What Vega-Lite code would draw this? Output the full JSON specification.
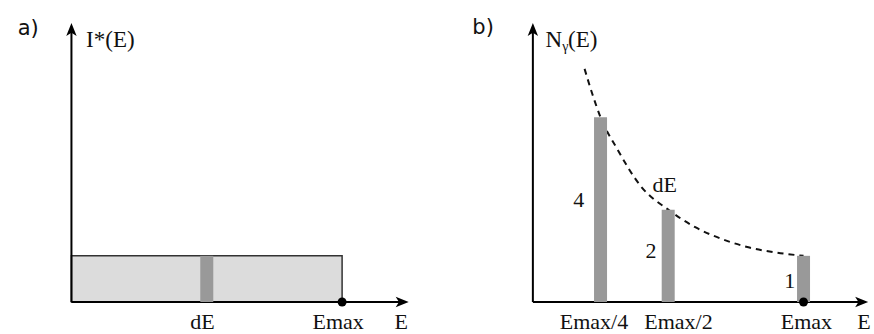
{
  "$schema": "https://vega.github.io/schema/vega-lite/v6.json",
  "padding": 0,
  "background": "white",
  "spacing": 0,
  "config": {"view": {"stroke": null}, "concat": {"spacing": 0}},
  "datasets": {
    "a_box": [{"E": 0, "E2": 1, "N": 0, "N2": 1}],
    "a_axes": [{"E": 0, "E2": 0, "N": 0, "N2": 5.9}, {"E": 0, "E2": 1.222, "N": 0, "N2": 0}],
    "a_slice": [{"E": 0.5, "N": 1}],
    "a_xarrow": [{"E": 1.222, "N": 0}],
    "a_yarrow": [{"E": 0, "N": 5.9025}],
    "a_dot": [{"E": 1, "N": 0}],
    "a_panel": [{"E": -0.1986, "N": 5.783, "label": "a)"}],
    "a_left": [{"E": 0.0542, "N": 5.523, "label": "I*(E)"}],
    "a_ticks": [
      {"E": 0.4838, "N": -0.59, "label": "dE"},
      {"E": 0.9856, "N": -0.59, "label": "Emax"},
      {"E": 1.2184, "N": -0.59, "label": "E"}
    ],
    "b_axes": [{"E": 0, "E2": 0, "N": 0, "N2": 5.9}, {"E": 0, "E2": 1.2148, "N": 0, "N2": 0}],
    "b_bars": [{"E": 0.25, "N": 4}, {"E": 0.5, "N": 2}, {"E": 1, "N": 1}],
    "b_curve": [
      {"E": 0.191, "N": 5.05},
      {"E": 0.22, "N": 4.5},
      {"E": 0.25, "N": 4.0},
      {"E": 0.31, "N": 3.33},
      {"E": 0.4, "N": 2.5},
      {"E": 0.5, "N": 2.0},
      {"E": 0.6, "N": 1.62},
      {"E": 0.7, "N": 1.36},
      {"E": 0.8, "N": 1.18},
      {"E": 0.9, "N": 1.07},
      {"E": 1.0, "N": 1.0}
    ],
    "b_xarrow": [{"E": 1.2148, "N": 0}],
    "b_yarrow": [{"E": 0, "N": 5.9025}],
    "b_dot": [{"E": 1, "N": 0}],
    "b_panel": [{"E": -0.2238, "N": 5.805, "label": "b)"}],
    "b_left": [
      {"E": 0.0469, "N": 5.523, "label": "N"},
      {"E": 0.13, "N": 5.523, "label": "(E)"}
    ],
    "b_edge": [{"E": 1.1986, "N": -0.5848, "label": "E"}],
    "b_sub": [{"E": 0.1083, "N": 5.437, "label": "γ"}],
    "b_center": [
      {"E": 0.1697, "N": 2.0578, "label": "4"},
      {"E": 0.4368, "N": 0.9531, "label": "2"},
      {"E": 0.9495, "N": 0.3032, "label": "1"},
      {"E": 0.4874, "N": 2.3827, "label": "dE"},
      {"E": 0.2256, "N": -0.5848, "label": "Emax/4"},
      {"E": 0.5379, "N": -0.5848, "label": "Emax/2"},
      {"E": 1.0108, "N": -0.5848, "label": "Emax"}
    ]
  },
  "hconcat": [
    {
      "width": 437,
      "height": 334,
      "encoding": {
        "x": {"field": "E", "type": "quantitative", "axis": null, "scale": {"domain": [-0.24549, 1.33213], "nice": false, "zero": false}},
        "y": {"field": "N", "type": "quantitative", "axis": null, "scale": {"domain": [-0.69314, 6.54152], "nice": false, "zero": false}}
      },
      "layer": [
        {
          "data": {"name": "a_box"},
          "mark": {"type": "rect", "fill": "#dcdcdc", "stroke": "#333333", "strokeWidth": 1.5},
          "encoding": {"x2": {"field": "E2"}, "y2": {"field": "N2"}}
        },
        {
          "data": {"name": "a_axes"},
          "mark": {"type": "rule", "color": "#000000", "strokeWidth": 2},
          "encoding": {"x2": {"field": "E2"}, "y2": {"field": "N2"}}
        },
        {
          "data": {"name": "a_slice"},
          "mark": {"type": "bar", "width": 13, "fill": "#999999", "stroke": null},
          "encoding": {"y2": {"datum": 0}}
        },
        {
          "data": {"name": "a_xarrow"},
          "mark": {"type": "point", "shape": "M 1 0 L -1 -0.8 L -0.5 0 L -1 0.8 Z", "size": 169, "filled": true, "color": "#000000", "opacity": 1, "angle": 0}
        },
        {
          "data": {"name": "a_yarrow"},
          "mark": {"type": "point", "shape": "M 1 0 L -1 -0.8 L -0.5 0 L -1 0.8 Z", "size": 169, "filled": true, "color": "#000000", "opacity": 1, "angle": -90}
        },
        {
          "data": {"name": "a_dot"},
          "mark": {"type": "circle", "size": 80, "color": "#000000", "opacity": 1}
        },
        {
          "data": {"name": "a_panel"},
          "mark": {"type": "text", "font": "DejaVu Sans", "fontSize": 21, "align": "left", "baseline": "alphabetic", "color": "#111111"},
          "encoding": {"text": {"field": "label"}}
        },
        {
          "data": {"name": "a_left"},
          "mark": {"type": "text", "font": "Liberation Serif", "fontSize": 23, "align": "left", "baseline": "alphabetic", "color": "#111111"},
          "encoding": {"text": {"field": "label"}}
        },
        {
          "data": {"name": "a_ticks"},
          "mark": {"type": "text", "font": "Liberation Serif", "fontSize": 22, "align": "center", "baseline": "alphabetic", "color": "#111111"},
          "encoding": {"text": {"field": "label"}}
        }
      ]
    },
    {
      "width": 437,
      "height": 334,
      "encoding": {
        "x": {"field": "E", "type": "quantitative", "axis": null, "scale": {"domain": [-0.33574, 1.24188], "nice": false, "zero": false}},
        "y": {"field": "N", "type": "quantitative", "axis": null, "scale": {"domain": [-0.69314, 6.54152], "nice": false, "zero": false}}
      },
      "layer": [
        {
          "data": {"name": "b_axes"},
          "mark": {"type": "rule", "color": "#000000", "strokeWidth": 2},
          "encoding": {"x2": {"field": "E2"}, "y2": {"field": "N2"}}
        },
        {
          "data": {"name": "b_curve"},
          "mark": {"type": "line", "interpolate": "monotone", "color": "#111111", "strokeWidth": 2, "strokeDash": [6, 5]}
        },
        {
          "data": {"name": "b_bars"},
          "mark": {"type": "bar", "width": 13, "fill": "#999999", "stroke": null},
          "encoding": {"y2": {"datum": 0}}
        },
        {
          "data": {"name": "b_xarrow"},
          "mark": {"type": "point", "shape": "M 1 0 L -1 -0.8 L -0.5 0 L -1 0.8 Z", "size": 169, "filled": true, "color": "#000000", "opacity": 1, "angle": 0}
        },
        {
          "data": {"name": "b_yarrow"},
          "mark": {"type": "point", "shape": "M 1 0 L -1 -0.8 L -0.5 0 L -1 0.8 Z", "size": 169, "filled": true, "color": "#000000", "opacity": 1, "angle": -90}
        },
        {
          "data": {"name": "b_dot"},
          "mark": {"type": "circle", "size": 80, "color": "#000000", "opacity": 1}
        },
        {
          "data": {"name": "b_panel"},
          "mark": {"type": "text", "font": "DejaVu Sans", "fontSize": 21, "align": "left", "baseline": "alphabetic", "color": "#111111"},
          "encoding": {"text": {"field": "label"}}
        },
        {
          "data": {"name": "b_left"},
          "mark": {"type": "text", "font": "Liberation Serif", "fontSize": 23, "align": "left", "baseline": "alphabetic", "color": "#111111"},
          "encoding": {"text": {"field": "label"}}
        },
        {
          "data": {"name": "b_edge"},
          "mark": {"type": "text", "font": "Liberation Serif", "fontSize": 22, "align": "left", "baseline": "alphabetic", "color": "#111111"},
          "encoding": {"text": {"field": "label"}}
        },
        {
          "data": {"name": "b_sub"},
          "mark": {"type": "text", "font": "Liberation Serif", "fontSize": 14, "align": "left", "baseline": "alphabetic", "color": "#111111"},
          "encoding": {"text": {"field": "label"}}
        },
        {
          "data": {"name": "b_center"},
          "mark": {"type": "text", "font": "Liberation Serif", "fontSize": 22, "align": "center", "baseline": "alphabetic", "color": "#111111"},
          "encoding": {"text": {"field": "label"}}
        }
      ]
    }
  ]
}
